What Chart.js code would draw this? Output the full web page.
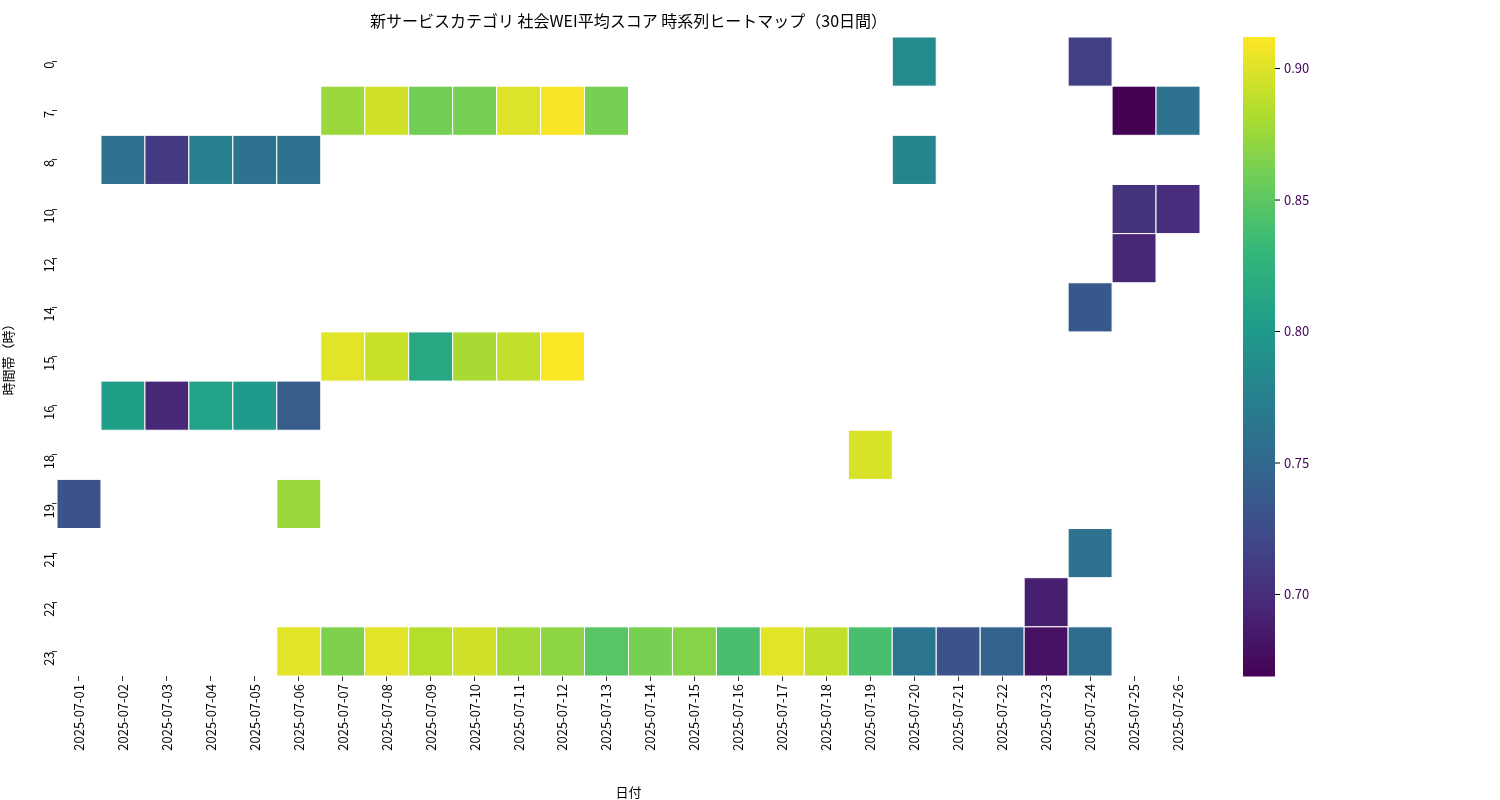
<!DOCTYPE html>
<html>
<head>
<meta charset="utf-8">
<script src="https://cdn.jsdelivr.net/npm/chart.js@4"></script>
<style>
  html, body { margin: 0; padding: 0; background: #fff; }
  #wrap { width: 1500px; height: 800px; }
</style>
</head>
<body>
<div id="wrap"><canvas id="heat"></canvas></div>
<script>
// Heatmap data: dates (columns), hours (rows), cells [date, hour, score]
const dates = ['2025-07-01','2025-07-02','2025-07-03','2025-07-04','2025-07-05','2025-07-06','2025-07-07',
  '2025-07-08','2025-07-09','2025-07-10','2025-07-11','2025-07-12','2025-07-13','2025-07-14','2025-07-15',
  '2025-07-16','2025-07-17','2025-07-18','2025-07-19','2025-07-20','2025-07-21','2025-07-22','2025-07-23',
  '2025-07-24','2025-07-25','2025-07-26'];
const hours = ['0','7','8','10','12','14','15','16','18','19','21','22','23'];

const row0 = [['2025-07-20', 0.785], ['2025-07-24', 0.715]];
const row7 = [['2025-07-07', 0.875], ['2025-07-08', 0.895], ['2025-07-09', 0.860], ['2025-07-10', 0.862],
  ['2025-07-11', 0.900], ['2025-07-12', 0.910], ['2025-07-13', 0.862], ['2025-07-25', 0.669], ['2025-07-26', 0.760]];
const row8 = [['2025-07-02', 0.760], ['2025-07-03', 0.710], ['2025-07-04', 0.775], ['2025-07-05', 0.760],
  ['2025-07-06', 0.760], ['2025-07-20', 0.780]];
const row10 = [['2025-07-25', 0.705], ['2025-07-26', 0.700]];
const row12 = [['2025-07-25', 0.695]];
const row14 = [['2025-07-24', 0.735]];
const row15 = [['2025-07-07', 0.902], ['2025-07-08', 0.893], ['2025-07-09', 0.815], ['2025-07-10', 0.880],
  ['2025-07-11', 0.890], ['2025-07-12', 0.911]];
const row16 = [['2025-07-02', 0.805], ['2025-07-03', 0.695], ['2025-07-04', 0.808], ['2025-07-05', 0.800],
  ['2025-07-06', 0.740]];
const row18 = [['2025-07-19', 0.898]];
const row19 = [['2025-07-01', 0.730], ['2025-07-06', 0.875]];
const row21 = [['2025-07-24', 0.760]];
const row22 = [['2025-07-23', 0.690]];
const row23 = [['2025-07-06', 0.902], ['2025-07-07', 0.865], ['2025-07-08', 0.902], ['2025-07-09', 0.885],
  ['2025-07-10', 0.895], ['2025-07-11', 0.878], ['2025-07-12', 0.870], ['2025-07-13', 0.848],
  ['2025-07-14', 0.862], ['2025-07-15', 0.868], ['2025-07-16', 0.840], ['2025-07-17', 0.902],
  ['2025-07-18', 0.890], ['2025-07-19', 0.840], ['2025-07-20', 0.765], ['2025-07-21', 0.730],
  ['2025-07-22', 0.745], ['2025-07-23', 0.680], ['2025-07-24', 0.755]];

const rows = [row0, row7, row8, row10, row12, row14, row15, row16, row18, row19, row21, row22, row23];
const vMin = 0.669, vMax = 0.912;
const cbTicks = [0.70, 0.75, 0.80, 0.85, 0.90];

const cells = [];
rows.forEach((r, i) => r.forEach(([d, v]) => cells.push({ x: d, y: hours[i], v: v })));

// viridis colormap stops
const VIR = [[68,1,84],[72,40,120],[62,74,137],[49,104,142],[38,130,142],[31,158,137],[53,183,121],[109,205,89],[180,222,44],[253,231,37]];
function viridis(t) {
  t = Math.max(0, Math.min(1, t));
  const p = t * (VIR.length - 1), i = Math.min(Math.floor(p), VIR.length - 2), f = p - i;
  const c = VIR[i].map((a, k) => Math.round(a + (VIR[i + 1][k] - a) * f));
  return `rgb(${c[0]},${c[1]},${c[2]})`;
}
const norm = v => (v - vMin) / (vMax - vMin);

const FONT = '"Noto Sans CJK JP", "Noto Sans", sans-serif';

const heatPlugin = {
  id: 'heat',
  afterDatasetsDraw(chart) {
    const { ctx, scales: { x, y } } = chart;
    const w = x.getPixelForValue(1) - x.getPixelForValue(0);
    const h = y.getPixelForValue(1) - y.getPixelForValue(0);
    ctx.save();
    cells.forEach(c => {
      const cx = x.getPixelForValue(dates.indexOf(c.x));
      const cy = y.getPixelForValue(hours.indexOf(c.y));
      ctx.fillStyle = viridis(norm(c.v));
      ctx.fillRect(cx - w / 2, cy - h / 2, w, h);
      ctx.strokeStyle = '#fff';
      ctx.lineWidth = 1;
      ctx.strokeRect(cx - w / 2, cy - h / 2, w, h);
    });
    ctx.restore();
  },
  afterDraw(chart) {
    const { ctx, chartArea: a } = chart;
    ctx.save();
    // title
    ctx.fillStyle = '#000';
    ctx.font = '16px ' + FONT;
    ctx.textAlign = 'center';
    ctx.textBaseline = 'middle';
    ctx.fillText('新サービスカテゴリ 社会WEI平均スコア 時系列ヒートマップ（30日間）', (a.left + a.right) / 2, 21);
    // colorbar
    const bx = 1243, bw = 32, top = a.top, bot = a.bottom;
    for (let yy = top; yy < bot; yy++) {
      ctx.fillStyle = viridis(1 - (yy - top) / (bot - top));
      ctx.fillRect(bx, yy, bw, 1.5);
    }
    ctx.font = '13px ' + FONT;
    ctx.textAlign = 'left';
    ctx.strokeStyle = '#000';
    cbTicks.forEach(t => {
      const yy = bot - norm(t) * (bot - top);
      ctx.beginPath(); ctx.moveTo(bx + bw, yy); ctx.lineTo(bx + bw + 5, yy); ctx.stroke();
      ctx.fillText(t.toFixed(2), bx + bw + 9, yy);
    });
    ctx.restore();
  }
};

new Chart(document.getElementById('heat'), {
  type: 'scatter',
  data: { datasets: [{ data: cells, pointRadius: 0 }] },
  options: {
    responsive: true,
    maintainAspectRatio: false,
    animation: false,
    layout: { padding: { top: 37, right: 300, left: 0, bottom: 0 } },
    plugins: { legend: { display: false }, tooltip: { enabled: false } },
    scales: {
      x: {
        type: 'category', labels: dates, offset: true,
        afterFit: s => { s.height = 124; },
        grid: { display: true, drawOnChartArea: false, tickLength: 5, color: '#333', offset: false },
        border: { display: false },
        ticks: { color: '#000', font: { size: 13, family: FONT }, maxRotation: 90, minRotation: 90, autoSkip: false },
        title: { display: true, text: '日付', color: '#000', font: { size: 13, family: FONT }, padding: 0 }
      },
      y: {
        type: 'category', labels: hours, offset: true,
        afterFit: s => { s.width = 57; },
        grid: { display: true, drawOnChartArea: false, tickLength: 5, color: '#333', offset: false },
        border: { display: false },
        ticks: { color: '#000', font: { size: 13, family: FONT }, autoSkip: false, maxRotation: 90, minRotation: 90 },
        title: { display: true, text: '時間帯（時）', color: '#000', font: { size: 13, family: FONT }, padding: 0 }
      }
    }
  },
  plugins: [heatPlugin]
});
</script>
</body>
</html>
